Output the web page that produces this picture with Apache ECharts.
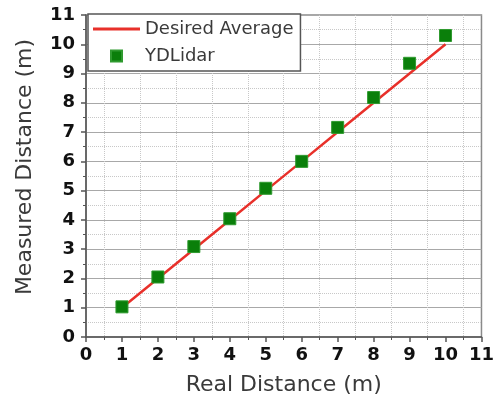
<!DOCTYPE html>
<html>
<head>
<meta charset="utf-8">
<script src="https://cdn.jsdelivr.net/npm/echarts@6/dist/echarts.min.js"></script>
<style>
html,body{margin:0;padding:0;background:#fff;}
#chart{width:497px;height:410px;}
</style>
</head>
<body>
<div id="chart"></div>
<script>
var desiredX = [1, 2, 3, 4, 5, 6, 7, 8, 9, 10];
var desiredY = [1, 2, 3, 4, 5, 6, 7, 8, 9, 10];
var lidarX = [1, 2, 3, 4, 5, 6, 7, 8, 9, 10];
var lidarY = [1.03, 2.05, 3.09, 4.04, 5.08, 6.0, 7.16, 8.18, 9.35, 10.3];
var seriesNames = ['Desired Average', 'YDLidar'];

var FONT = 'DejaVu Sans';
var chart = echarts.init(document.getElementById('chart'));
chart.setOption({
  backgroundColor: '#fff',
  animation: false,
  grid: {
    left: 86, right: 11, top: 15, bottom: 73,
    show: true, borderColor: '#8a8a8a', borderWidth: 1.5, backgroundColor: 'transparent'
  },
  legend: {
    left: 88, top: 14,
    orient: 'vertical',
    padding: [6, 7, 6, 5],
    itemWidth: 47, itemHeight: 11, itemGap: 9,
    backgroundColor: '#fff',
    borderColor: '#555', borderWidth: 1.5,
    textStyle: { fontFamily: FONT, fontSize: 18, color: '#3a3a3a' },
    data: [
      { name: seriesNames[0], icon: 'path://M0,0h47v3h-47z', itemStyle: { color: '#e8302a' } },
      { name: seriesNames[1], icon: 'path://M0,0h1v1h-1z' }
    ]
  },
  xAxis: {
    type: 'value', min: 0, max: 11, interval: 1,
    name: 'Real Distance (m)', nameLocation: 'middle', nameGap: 37,
    nameTextStyle: { fontFamily: FONT, fontSize: 22, color: '#3a3a3a' },
    axisLine: { show: true, lineStyle: { color: '#555', width: 1.5 } },
    axisTick: { show: true, length: 5, lineStyle: { color: '#555', width: 1.5 } },
    minorTick: { show: true, splitNumber: 2, length: 3, lineStyle: { color: '#555', width: 1 } },
    axisLabel: { fontFamily: FONT, fontSize: 18, fontWeight: 'bold', color: '#111', margin: 9 },
    splitLine: { show: false },
    minorSplitLine: { show: true, lineStyle: { color: '#c8c8c8', type: 'dotted', width: 1 } }
  },
  yAxis: {
    type: 'value', min: 0, max: 11, interval: 1,
    name: 'Measured Distance (m)', nameLocation: 'middle', nameGap: 50,
    nameTextStyle: { fontFamily: FONT, fontSize: 22, color: '#3a3a3a', padding: [0, 0, 0, 18] },
    axisLine: { show: true, lineStyle: { color: '#555', width: 1.5 } },
    axisTick: { show: true, length: 5, lineStyle: { color: '#555', width: 1.5 } },
    minorTick: { show: true, splitNumber: 2, length: 3, lineStyle: { color: '#555', width: 1 } },
    axisLabel: { fontFamily: FONT, fontSize: 18, fontWeight: 'bold', color: '#111', margin: 11 },
    splitLine: { show: true, lineStyle: { color: '#a8a8a8', width: 1 } },
    minorSplitLine: { show: true, lineStyle: { color: '#c8c8c8', type: 'dotted', width: 1 } }
  },
  series: [
    {
      name: seriesNames[0], type: 'line', symbol: 'none', showSymbol: false, z: 2,
      data: desiredX.map(function (x, i) { return [x, desiredY[i]]; }),
      lineStyle: { color: '#e8302a', width: 2.5 },
      itemStyle: { color: '#e8302a' }
    },
    {
      name: seriesNames[1], type: 'scatter', symbol: 'rect', symbolSize: 12, z: 3,
      data: lidarX.map(function (x, i) { return [x, lidarY[i]]; }),
      itemStyle: { color: '#0a7f0a', borderColor: '#2f9a2f', borderWidth: 1, opacity: 1 }
    }
  ]
});
</script>
</body>
</html>
